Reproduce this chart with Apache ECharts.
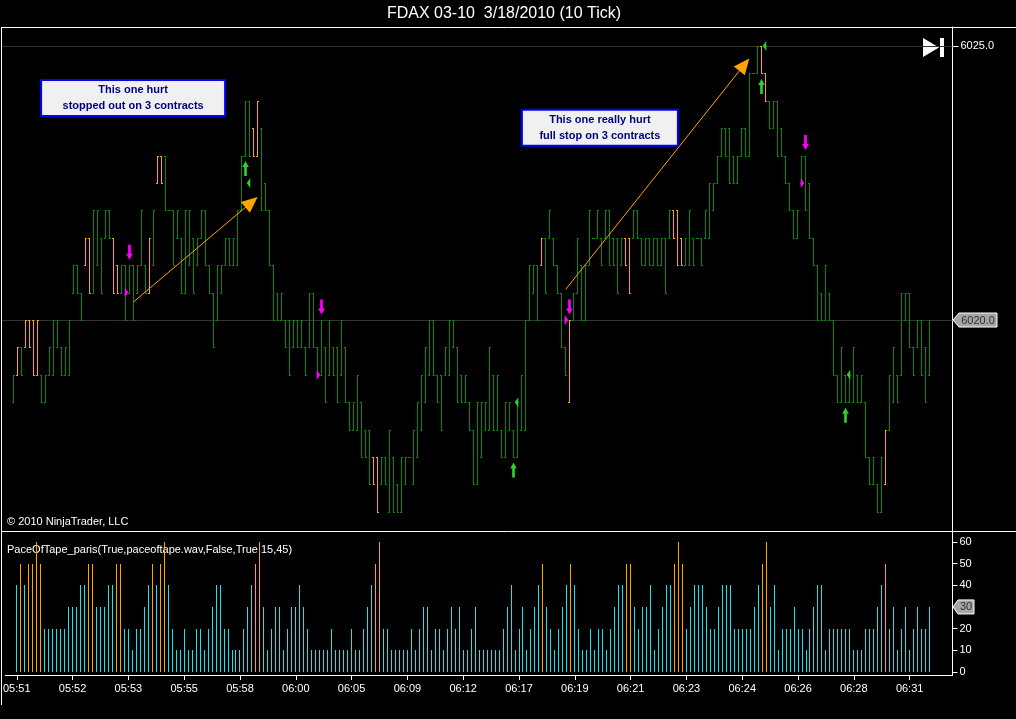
<!DOCTYPE html>
<html><head><meta charset="utf-8">
<script src="https://cdn.jsdelivr.net/npm/echarts@6/dist/echarts.min.js"></script>
<style>html,body{margin:0;padding:0;background:#000;}#c{width:1016px;height:719px;}</style>
</head><body><div id="c"></div>
<script>
// ---- time axis labels (bar index of each label) ----
const tickBars = [0,14,28,42,56,70,84,98,112,126,140,154,168,182,196,210,224];
const tickLabels = ['05:51','05:52','05:53','05:55','05:58','06:00','06:05','06:09','06:12','06:17','06:19','06:21','06:23','06:24','06:26','06:28','06:31'];

// ---- 10-tick bars: open / high / low / close ----
const openP = [
6018.5,6019,6019.5,6019.5,6020,6020,6019,6019,6018.5,6019,
6019,6019.5,6019.5,6019,6019,6020.5,6021,6020.5,6021,6021.5,
6020.5,6021,6021.5,6021.5,6022,6021.5,6021,6020.5,6021,6020.5,
6021,6020.5,6021,6021,6020.5,6021,6022.5,6023,6023,6022,
6022,6021.5,6021.5,6020.5,6021,6021.5,6021,6021.5,6022,6021,
6020.5,6020,6020.5,6021,6021.5,6021,6021,6022,6023,6024,
6023.5,6023,6023.5,6022.5,6022,6021,6020.5,6020,6020,6020,
6019.5,6020,6019.5,6019.5,6019.5,6020.5,6019.5,6019,6019.5,6019,
6019.5,6019.5,6019,6019.5,6018.5,6018,6018,6018.5,6018,6018,
6017.5,6017.5,6017,6017.5,6016.5,6017.5,6017,6016.5,6017,6017.5,
6017,6017.5,6018,6018.5,6019,6020,6019,6019,6019,6019,
6019.5,6019.5,6019,6018.5,6018.5,6018,6017,6017.5,6018,6018,
6019,6018,6018,6017.5,6018,6018,6017.5,6018,6018,6020,
6020.5,6021,6021,6021.5,6021.5,6021.5,6021,6020.5,6019.5,6018.5,
6020,6020.5,6021,6020,6021,6021.5,6021.5,6021.5,6021.5,6022,
6021.5,6021.5,6021,6021.5,6021.5,6021.5,6022,6021.5,6021,6021.5,
6021,6021.5,6021,6021.5,6021.5,6022,6022,6021.5,6021,6021,
6021.5,6021.5,6021.5,6021.5,6021.5,6022,6022.5,6023,6023.5,6023.5,
6023,6022.5,6023,6023.5,6023,6024.5,6024.5,6025,6024.5,6024,
6023.5,6024,6023.5,6023,6022.5,6022,6021.5,6022.5,6023,6022.5,
6021.5,6021,6020.5,6020,6020.5,6020,6019,6018.5,6019,6018.5,
6018.5,6019,6018.5,6018.5,6017.5,6017,6017,6016.5,6017,6018,
6018.5,6019,6019,6020,6020.5,6019.5,6019.5,6020,6019.5,6019];
const highP = [
6019,6019.5,6019.5,6020,6020,6020,6020,6019,6019,6019.5,
6020,6020,6019.5,6019.5,6020,6021,6021,6020.5,6021.5,6021.5,
6022,6022,6021.5,6022,6022,6021.5,6021,6021,6021,6021,
6021,6021,6022,6021,6021.5,6022,6023,6023,6023,6022,
6022,6022,6021.5,6022,6022,6021.5,6021.5,6022,6022,6021,
6020.5,6021,6021,6021.5,6021.5,6021.5,6022,6023,6024,6024,
6023.5,6024,6023.5,6022.5,6022,6021,6020.5,6020.5,6020,6020,
6020,6020,6020,6019.5,6020.5,6020.5,6019.5,6020,6019.5,6020,
6019.5,6019.5,6020,6019.5,6018.5,6018.5,6019,6018.5,6018,6018,
6017.5,6017.5,6017.5,6017.5,6018,6017.5,6017,6017.5,6017.5,6017.5,
6018,6018.5,6019,6019.5,6020,6020,6019,6019,6019.5,6020,
6020,6019.5,6019,6019,6018.5,6018,6018.5,6018.5,6018.5,6019.5,
6019,6019,6018,6018.5,6018.5,6018,6018.5,6019,6020,6021,
6021,6021,6021.5,6021.5,6022,6021.5,6021,6020.5,6019.5,6020,
6020.5,6021.5,6021,6021,6022,6021.5,6022,6021.5,6022,6022,
6021.5,6021.5,6021.5,6021.5,6021.5,6022,6022,6021.5,6021.5,6021.5,
6021.5,6021.5,6021.5,6021.5,6022,6022,6022,6021.5,6021.5,6022,
6021.5,6021.5,6021.5,6022,6022.5,6022.5,6023,6023.5,6023.5,6023.5,
6023,6023,6023.5,6023.5,6024.5,6024.5,6025,6025,6024.5,6024,
6024,6024,6023.5,6023,6022.5,6022,6022,6023,6023,6022.5,
6021.5,6021,6020.5,6021,6020.5,6020,6019,6019.5,6019,6019,
6019.5,6019,6019,6018.5,6017.5,6017.5,6017,6017.5,6018,6019,
6019.5,6019,6020.5,6020.5,6020.5,6019.5,6020,6020,6019.5,6020];
const lowP = [
6018.5,6019,6019,6019.5,6019.5,6019,6019,6018.5,6018.5,6019,
6019,6019.5,6019,6019,6019,6020.5,6020.5,6020,6021,6020.5,
6020.5,6021,6020.5,6021.5,6021.5,6020.5,6020.5,6020.5,6020,6020.5,
6020,6020.5,6021,6020.5,6020.5,6021,6022.5,6022.5,6022,6022,
6021,6021.5,6020.5,6020.5,6021,6020.5,6021,6021.5,6021,6020.5,
6019.5,6020,6020.5,6021,6021,6021,6021,6022,6023,6023,
6023,6023,6022,6022,6021,6020,6020,6020,6019.5,6019,
6019.5,6019.5,6019.5,6019,6019.5,6019.5,6019,6019,6018.5,6019,
6019,6018.5,6019,6018.5,6018,6018,6018,6017.5,6017.5,6017,
6017,6016.5,6017,6017,6016.5,6016.5,6016.5,6016.5,6017,6017.5,
6017,6017.5,6018,6018.5,6019,6019,6018.5,6018,6019,6019,
6019.5,6018.5,6018.5,6018.5,6018,6017,6017,6017.5,6018,6018,
6018,6018,6017.5,6017.5,6018,6017.5,6017.5,6018,6018,6020,
6020.5,6020,6021,6020.5,6021.5,6021,6020.5,6019.5,6019,6018.5,
6020,6020.5,6020,6020,6021,6021.5,6021.5,6021,6021.5,6021,
6021,6020.5,6021,6021,6020.5,6021.5,6021.5,6021,6021,6021,
6021,6021,6021,6020.5,6021.5,6021.5,6021,6021,6021,6021,
6021,6021.5,6021,6021.5,6021.5,6022,6022.5,6023,6023,6022.5,
6022.5,6022.5,6023,6023,6023,6024.5,6024.5,6024.5,6024,6023.5,
6023.5,6023,6023,6022.5,6022,6021.5,6021.5,6022.5,6022,6021.5,
6021,6020,6020,6020,6020,6019,6018.5,6018.5,6018.5,6018.5,
6018.5,6018.5,6018.5,6017.5,6017,6017,6016.5,6016.5,6017,6018,
6018.5,6018.5,6019,6020,6019.5,6019,6019.5,6019,6018.5,6019];
const closeP = [
6019,6019.5,6019,6020,6019.5,6019,6020,6018.5,6019,6019.5,
6020,6020,6019,6019.5,6020,6021,6020.5,6020,6021.5,6020.5,
6022,6022,6020.5,6022,6021.5,6020.5,6020.5,6021,6020,6021,
6020,6021,6022,6020.5,6021.5,6022,6023,6022.5,6022,6022,
6021,6022,6020.5,6022,6022,6020.5,6021.5,6022,6021,6020.5,
6019.5,6021,6021,6021.5,6021,6021.5,6022,6023,6024,6023,
6023,6024,6022,6022,6021,6020,6020,6020.5,6019.5,6019,
6020,6019.5,6020,6019,6020.5,6019.5,6019,6020,6018.5,6020,
6019,6018.5,6020,6018.5,6018,6018.5,6019,6017.5,6017.5,6017,
6017,6016.5,6017.5,6017,6018,6016.5,6016.5,6017.5,6017.5,6017.5,
6018,6018.5,6019,6019.5,6020,6019,6018.5,6018,6019.5,6020,
6020,6018.5,6018.5,6019,6018,6017,6018.5,6018.5,6018.5,6019.5,
6018,6019,6017.5,6018.5,6018.5,6017.5,6018.5,6019,6020,6021,
6021,6020,6021.5,6020.5,6022,6021,6020.5,6019.5,6019,6020,
6020.5,6021.5,6020,6021,6022,6021.5,6022,6021,6022,6021,
6021,6020.5,6021.5,6021,6020.5,6022,6021.5,6021,6021.5,6021,
6021.5,6021,6021.5,6020.5,6022,6021.5,6021,6021,6021.5,6022,
6021,6021.5,6021,6022,6022.5,6022.5,6023,6023.5,6023,6022.5,
6022.5,6023,6023.5,6023,6024.5,6024.5,6025,6024.5,6024,6023.5,
6024,6023,6023,6022.5,6022,6021.5,6022,6023,6022,6021.5,
6021,6020,6020,6021,6020,6019,6018.5,6019.5,6018.5,6019,
6019.5,6018.5,6019,6017.5,6017,6017.5,6016.5,6017.5,6018,6019,
6019.5,6018.5,6020.5,6020.5,6019.5,6019,6020,6019,6018.5,6020];

// ---- PaceOfTape indicator values (one per bar) ----
const pace = [
40,50,40,50,50,60,50,20,20,20,
20,20,20,30,30,30,40,40,50,50,
30,30,30,40,40,50,50,20,20,10,
20,20,30,40,50,40,50,60,40,20,
10,10,20,10,10,20,20,10,20,30,
40,40,20,20,10,10,10,20,30,40,
50,60,30,10,20,30,30,10,20,30,
30,40,30,20,10,10,10,10,10,20,
10,10,10,10,20,10,10,20,30,40,
50,60,20,20,10,10,10,10,10,20,
10,20,30,30,10,20,20,10,20,30,
20,30,10,10,20,30,10,10,10,10,
10,10,20,30,40,10,20,30,10,20,
30,40,50,30,20,10,20,30,40,50,
40,20,10,10,20,10,20,20,10,20,
30,40,40,50,50,30,20,30,30,40,
10,20,30,40,40,50,60,50,20,30,
40,40,40,30,20,20,30,40,40,40,
20,20,20,20,20,30,40,50,60,30,
40,10,20,20,20,30,20,20,10,20,
30,40,40,10,20,20,20,20,20,20,
10,10,10,20,20,20,30,40,50,20,
30,10,20,30,10,20,30,20,20,30];
const paceAlert = 45;

// ---- trade markers ----
const entryBars = [29, 77, 139, 198];
const entryPrices = [6020.5, 6019, 6020, 6022.5];
const exitBars = [58, 125, 187, 208];
const exitPrices = [6022.5, 6018.5, 6025, 6019];

const GREEN = '#008c00', ORANGE = '#ffa500', CYAN = '#22e0e8', MAGENTA = '#ff00ff', LGREEN = '#33cc33';
const FONT = '"Liberation Sans", Arial, sans-serif';

const priceData = openP.map((o, i) => [i, o, highP[i], lowP[i], closeP[i], pace[i]]);
const paceData = pace.map((v, i) => [i, v]);
const lastClose = closeP[closeP.length - 1];
const lastPace = pace[pace.length - 1];

function renderOHLC(params, api) {
  const i = api.value(0);
  const pO = api.coord([i, api.value(1)]);
  const pH = api.coord([i, api.value(2)]);
  const pL = api.coord([i, api.value(3)]);
  const pC = api.coord([i, api.value(4)]);
  const x = Math.round(pH[0] - 0.5);
  const yH = Math.round(pH[1]), yL = Math.round(pL[1]), yO = Math.round(pO[1]), yC = Math.round(pC[1]);
  const color = api.value(5) >= paceAlert ? ORANGE : GREEN;
  return { type: 'group', children: [
    { type: 'rect', shape: { x: x, y: yH, width: 1, height: yL - yH + 1 }, style: { fill: color } },
    { type: 'rect', shape: { x: x - 1, y: yO, width: 1, height: 1 }, style: { fill: color } },
    { type: 'rect', shape: { x: x + 1, y: yC, width: 1, height: 1 }, style: { fill: color } }
  ]};
}
function renderPace(params, api) {
  const i = api.value(0), v = api.value(1);
  const p0 = api.coord([i, 0]), p1 = api.coord([i, v]);
  const x = Math.round(p0[0] - 0.5);
  const y0 = Math.round(p0[1]), y1 = Math.round(p1[1]);
  return { type: 'rect', shape: { x: x, y: y1, width: 1, height: y0 - y1 }, style: { fill: v >= paceAlert ? ORANGE : CYAN } };
}

const X_MIN = -2.875, X_MAX = 234.75;
const chart = echarts.init(document.getElementById('c'), null, { renderer: 'canvas' });
const axisText = { color: '#ffffff', fontSize: 11, fontFamily: FONT };
const noteLabel = { show: true, position: 'inside', color: '#000080', fontWeight: 'bold', fontSize: 11,
  fontFamily: FONT, lineHeight: 16, align: 'center', backgroundColor: '#f0f0f0',
  borderColor: '#0000ff', borderWidth: 2, padding: [1, 0, 1, 0] };

chart.setOption({
  backgroundColor: '#000000',
  animation: false,
  grid: [
    { left: 2, right: 63.5, top: 27, height: 504 },
    { left: 2, right: 63.5, top: 531, height: 144 }
  ],
  xAxis: [
    { type: 'value', gridIndex: 0, min: X_MIN, max: X_MAX, show: false },
    { type: 'value', gridIndex: 1, min: X_MIN, max: X_MAX,
      axisLine: { show: true, onZero: false, lineStyle: { color: '#ffffff', width: 1 } },
      axisTick: { show: true, length: 5, lineStyle: { color: '#ffffff' }, customValues: tickBars },
      axisLabel: Object.assign({ margin: 8, customValues: tickBars,
        formatter: v => tickLabels[tickBars.indexOf(v)] || '' }, axisText),
      splitLine: { show: false } }
  ],
  yAxis: [
    { type: 'value', gridIndex: 0, position: 'right', min: 6016.15, max: 6025.347,
      axisLine: { show: true, onZero: false, lineStyle: { color: '#ffffff', width: 1 } },
      axisTick: { show: true, length: 6, lineStyle: { color: '#ffffff' }, customValues: [6020, 6025] },
      axisLabel: Object.assign({ margin: 8, customValues: [6020, 6025],
        formatter: v => (v === lastClose ? '' : v.toFixed(1)) }, axisText),
      splitLine: { show: false } },
    { type: 'value', gridIndex: 1, position: 'right', min: -1.5, max: 65.15,
      axisLine: { show: true, onZero: false, lineStyle: { color: '#ffffff', width: 1 } },
      axisTick: { show: true, length: 5, lineStyle: { color: '#ffffff' }, customValues: [0,10,20,30,40,50,60] },
      axisLabel: Object.assign({ margin: 7, customValues: [0,10,20,30,40,50,60],
        formatter: v => (v === lastPace ? '' : String(v)) }, axisText),
      splitLine: { show: false } }
  ],
  series: [
    { type: 'custom', name: 'price', xAxisIndex: 0, yAxisIndex: 0, data: priceData,
      encode: { x: 0, y: [1, 2, 3, 4] }, renderItem: renderOHLC, silent: true, z: 3,
      markLine: { silent: true, symbol: 'none', label: { show: false },
        lineStyle: { color: '#333333', width: 1, type: 'solid' },
        data: [{ yAxis: 6020 }, { yAxis: 6025 }], z: 1 } },
    { type: 'scatter', name: 'entry', xAxisIndex: 0, yAxisIndex: 0,
      data: entryBars.map(b => [b, highP[b]]),
      symbol: 'path://M3,0 L7,0 L7,9 L10,9 L5,15 L0,9 L3,9 Z', symbolSize: [10, 15], symbolKeepAspect: true,
      symbolOffset: [0, -13], itemStyle: { color: MAGENTA, opacity: 1 }, z: 5, silent: true,
      markPoint: { silent: true, symbol: 'circle', symbolSize: 1, z: 6,
        itemStyle: { color: 'rgba(0,0,0,0)' },
        label: noteLabel,
        data: [
          { coord: [29.9, 6024.05], value: 1,
            label: { width: 182, formatter: 'This one hurt\nstopped out on 3 contracts' } },
          { coord: [146.6, 6023.51], value: 2,
            label: { width: 154, formatter: 'This one really hurt\nfull stop on 3 contracts' } }
        ] } },
    { type: 'scatter', name: 'entryMark', xAxisIndex: 0, yAxisIndex: 0,
      data: entryBars.map((b, k) => [b, entryPrices[k]]),
      symbol: 'path://M0,0 L6,5 L0,10 Z', symbolSize: [6, 10], symbolKeepAspect: true,
      symbolOffset: [-3, 0], itemStyle: { color: MAGENTA, opacity: 1 }, z: 5, silent: true },
    { type: 'scatter', name: 'exit', xAxisIndex: 0, yAxisIndex: 0,
      data: exitBars.map(b => [b, lowP[b]]),
      symbol: 'path://M5,0 L10,6 L7,6 L7,15 L3,15 L3,6 L0,6 Z', symbolSize: [10, 15], symbolKeepAspect: true,
      symbolOffset: [0, 13], itemStyle: { color: LGREEN, opacity: 1 }, z: 5, silent: true,
      markLine: { silent: true, symbol: ['none', 'triangle'], symbolSize: [14, 16], label: { show: false },
        lineStyle: { color: ORANGE, width: 1, type: 'solid' }, itemStyle: { color: ORANGE },
        data: [
          [{ coord: [30, 6020.33] }, { coord: [59.5, 6022.15] }],
          [{ coord: [138.05, 6020.56] }, { coord: [182.7, 6024.66] }]
        ] } },
    { type: 'scatter', name: 'exitMark', xAxisIndex: 0, yAxisIndex: 0,
      data: exitBars.map((b, k) => [b, exitPrices[k]]),
      symbol: 'path://M6,0 L0,5 L6,10 Z', symbolSize: [6, 10], symbolKeepAspect: true,
      symbolOffset: [3, 0], itemStyle: { color: LGREEN, opacity: 1 }, z: 5, silent: true },
    { type: 'custom', name: 'pace', xAxisIndex: 1, yAxisIndex: 1, data: paceData,
      encode: { x: 0, y: 1 }, renderItem: renderPace, silent: true }
  ],
  graphic: [
    { id: 'title', type: 'text', x: 504, y: 14, style: { text: 'FDAX 03-10  3/18/2010 (10 Tick)', fill: '#ffffff',
      font: '16px ' + FONT, textAlign: 'center', textVerticalAlign: 'middle' } },
    { id: 'topline', type: 'line', shape: { x1: 1, y1: 27.5, x2: 1016, y2: 27.5 }, style: { stroke: '#ffffff', lineWidth: 1 } },
    { id: 'midline', type: 'line', shape: { x1: 1, y1: 531.5, x2: 1016, y2: 531.5 }, style: { stroke: '#ffffff', lineWidth: 1 } },
    { id: 'leftline', type: 'line', shape: { x1: 1.5, y1: 27, x2: 1.5, y2: 705 }, style: { stroke: '#ffffff', lineWidth: 1 } },
    { id: 'copy', type: 'text', x: 7, y: 522, style: { text: '\u00a9 2010 NinjaTrader, LLC', fill: '#ffffff',
      font: '11px ' + FONT, textVerticalAlign: 'middle' } },
    { id: 'ind', type: 'text', x: 7, y: 550, style: { text: 'PaceOfTape_paris(True,paceoftape.wav,False,True,15,45)', fill: '#ffffff',
      font: '11px ' + FONT, textVerticalAlign: 'middle' } },
    { id: 'iconTri', type: 'polygon', shape: { points: [[923, 38], [939, 47.5], [923, 57]] }, style: { fill: '#ffffff' } },
    { id: 'iconBar', type: 'rect', shape: { x: 940, y: 38, width: 4, height: 19 }, style: { fill: '#ffffff' } }
  ]
});

// current value markers on the right axes
const yP = chart.convertToPixel({ yAxisIndex: 0 }, lastClose);
const yQ = chart.convertToPixel({ yAxisIndex: 1 }, lastPace);
chart.setOption({ graphic: [
  { id: 'curP', type: 'polygon', z: 100,
    shape: { points: [[953, yP], [959, yP - 7], [997, yP - 7], [997, yP + 7], [959, yP + 7]] },
    style: { fill: '#a6a6a6', stroke: '#ffffff', lineWidth: 1 } },
  { id: 'curPt', type: 'text', z: 101, x: 978, y: yP + 0.5, style: { text: lastClose.toFixed(1), fill: '#303030',
    font: '11px ' + FONT, textAlign: 'center', textVerticalAlign: 'middle' } },
  { id: 'curQ', type: 'polygon', z: 100,
    shape: { points: [[953, yQ], [958, yQ - 7], [974, yQ - 7], [974, yQ + 7], [958, yQ + 7]] },
    style: { fill: '#a6a6a6', stroke: '#ffffff', lineWidth: 1 } },
  { id: 'curQt', type: 'text', z: 101, x: 966, y: yQ + 0.5, style: { text: String(lastPace), fill: '#303030',
    font: '11px ' + FONT, textAlign: 'center', textVerticalAlign: 'middle' } }
] });
</script>
</body></html>
